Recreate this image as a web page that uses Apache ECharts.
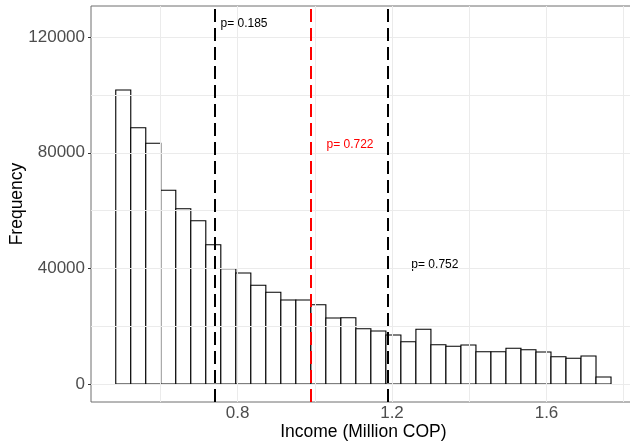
<!DOCTYPE html>
<html>
<head>
<meta charset="utf-8">
<script src="https://cdn.jsdelivr.net/npm/echarts@6/dist/echarts.min.js"></script>
<style>html,body{margin:0;padding:0;background:#fff;}#c{width:630px;height:441px;}</style>
</head>
<body>
<div id="c"></div>
<script>
// Histogram definition (Income in million COP)
const binStart = 0.4847;
const binWidth = 0.03886;
const counts = [101700, 88680, 83280, 67020, 60650, 56500, 48200, 39890, 38400, 34150,
                31730, 29060, 29060, 27440, 22840, 22940, 19130, 18340, 16950, 14640,
                18930, 13600, 13040, 13490, 11180, 11180, 12350, 11870, 11070, 9450,
                8890, 9690, 2420];
// Reference lines
const vlineX = [0.744, 0.993, 1.192];
const vlineColor = ['#000000', '#FF0000', '#000000'];
// Annotations
const annX = [0.8168, 1.0913, 1.311];
const annY = [124560, 82690, 41170];
const annText = ['p= 0.185', 'p= 0.722', 'p= 0.752'];
const annColor = ['#000000', '#FF0000', '#000000'];
// Axis ticks
const xTicks = [0.8, 1.2, 1.6];
const yTicks = [0, 40000, 80000, 120000];
const xGrid = [0.6, 0.8, 1.0, 1.2, 1.4, 1.6, 1.8];
const yGrid = [0, 20000, 40000, 60000, 80000, 100000, 120000];

const bins = counts.map((c, i) => [binStart + i * binWidth, binStart + (i + 1) * binWidth, c]);
const FONT = 'Liberation Sans, Arial, sans-serif';

const chart = echarts.init(document.getElementById('c'), null, {renderer: 'canvas'});
chart.setOption({
  animation: false,
  backgroundColor: '#ffffff',
  grid: {left: 91, top: 6, width: 544.7, height: 396, containLabel: false, outerBoundsMode: 'none',
         show: true, borderColor: '#6e6e6e', borderWidth: 1, backgroundColor: '#ffffff'},
  xAxis: {
    type: 'value', min: 0.4206, max: 1.831,
    axisLine: {show: false},
    splitLine: {show: false},
    axisTick: {show: true, length: 3, lineStyle: {color: '#333333'}, customValues: xTicks},
    axisLabel: {color: '#4D4D4D', fontSize: 17, fontFamily: FONT, margin: 3, customValues: xTicks,
                formatter: v => v.toFixed(1)},
    name: 'Income (Million COP)', nameLocation: 'middle', nameGap: 21, nameMoveOverlap: false,
    nameTextStyle: {color: '#000000', fontSize: 17.5, fontFamily: FONT}
  },
  yAxis: {
    type: 'value', min: -6228, max: 130790,
    axisLine: {show: false},
    splitLine: {show: false},
    axisTick: {show: true, length: 3, lineStyle: {color: '#333333'}, customValues: yTicks},
    axisLabel: {color: '#4D4D4D', fontSize: 17, fontFamily: FONT, margin: 6, customValues: yTicks,
                formatter: v => String(Math.round(v))},
    name: 'Frequency', nameLocation: 'middle', nameGap: 65, nameRotate: 90, nameMoveOverlap: false,
    nameTextStyle: {color: '#000000', fontSize: 17.5, fontFamily: FONT}
  },
  series: [
    {
      type: 'line', data: [], z: 1, silent: true,
      markLine: {
        silent: true, symbol: 'none', label: {show: false}, animation: false,
        lineStyle: {color: '#EBEBEB', width: 1, type: 'solid'},
        data: xGrid.map(v => ({xAxis: v})).concat(yGrid.map(v => ({yAxis: v})))
      }
    },
    {
      type: 'custom', z: 2, silent: true,
      data: bins,
      encode: {x: [0, 1], y: 2},
      renderItem: function (params, api) {
        const p0 = api.coord([api.value(0), api.value(2)]);
        const p1 = api.coord([api.value(1), 0]);
        return {type: 'rect',
          shape: {x: p0[0], y: p0[1], width: p1[0] - p0[0], height: p1[1] - p0[1]},
          style: {fill: '#ffffff', stroke: '#000000', lineWidth: 1.1}};
      }
    },
    {
      type: 'line', data: [], z: 3, silent: true,
      markLine: {
        silent: true, symbol: 'none', label: {show: false}, animation: false,
        data: vlineX.map((v, i) => ({xAxis: v, lineStyle: {color: vlineColor[i], width: 2, type: [13, 6]}}))
      }
    },
    {
      type: 'custom', z: 4, silent: true,
      data: annX.map((x, i) => [x, annY[i], i]),
      encode: {x: 0, y: 1},
      renderItem: function (params, api) {
        const p = api.coord([api.value(0), api.value(1)]);
        const i = api.value(2);
        return {type: 'text', x: p[0], y: p[1],
          style: {text: annText[i], fill: annColor[i], fontSize: 12, fontFamily: FONT, align: 'center', verticalAlign: 'middle'}};
      }
    }
  ]
});
</script>
</body>
</html>
